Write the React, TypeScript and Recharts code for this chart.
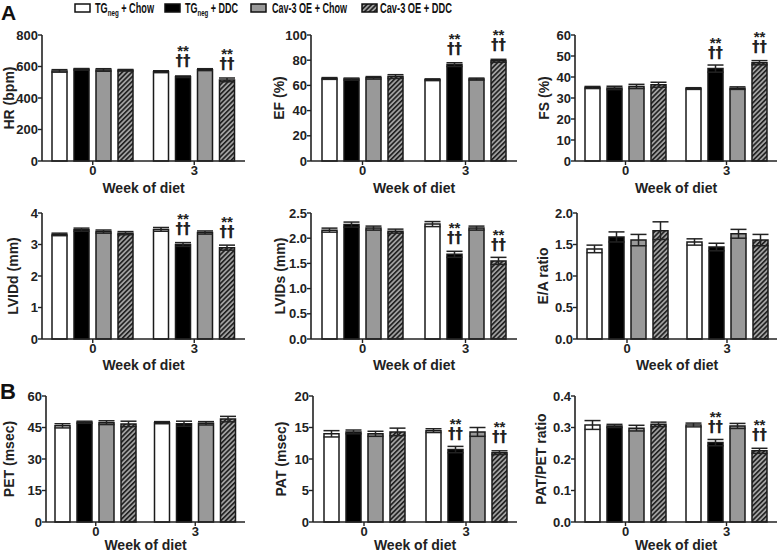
import React from "react";
import { BarChart, Bar, XAxis, YAxis, ErrorBar, LabelList } from "recharts";

const weeks = ["0", "3"];
const groupNames = ["TG", "TG", "Cav-3 OE + Chow", "Cav-3 OE + DDC"];
const groupFills = ["#ffffff", "#000000", "#999999", "url(#hatch)"];

// rows = week 0, week 3; columns = the four groups
const hrMeans = [[572, 582, 578, 576], [567, 535, 580, 515]];
const hrErrs = [[8, 5, 8, 5], [6, 5, 6, 12]];
const hrTicks = [0, 200, 400, 600, 800];

const efMeans = [[65.5, 65, 66, 67], [64.5, 76.5, 65, 79.5]];
const efErrs = [[0.7, 0.8, 1, 1.5], [0.7, 1.5, 0.8, 1.2]];
const efTicks = [0, 20, 40, 60, 80, 100];

const fsMeans = [[35, 34.8, 35.5, 36.3], [34.5, 44, 34.7, 46.8]];
const fsErrs = [[0.5, 0.8, 1, 1.2], [0.4, 1.7, 0.6, 1]];
const fsTicks = [0, 10, 20, 30, 40, 50, 60];

const lviddMeans = [[3.32, 3.47, 3.41, 3.36], [3.48, 3.0, 3.38, 2.9]];
const lviddErrs = [[0.04, 0.05, 0.05, 0.05], [0.06, 0.06, 0.05, 0.08]];
const lviddTicks = [0, 1, 2, 3, 4];

const lvidsMeans = [[2.16, 2.27, 2.2, 2.14], [2.28, 1.68, 2.2, 1.55]];
const lvidsErrs = [[0.04, 0.05, 0.04, 0.04], [0.05, 0.06, 0.04, 0.07]];
const lvidsTicks = [0, 0.5, 1, 1.5, 2, 2.5];

const eaMeans = [[1.43, 1.62, 1.57, 1.72], [1.54, 1.46, 1.67, 1.57]];
const eaErrs = [[0.06, 0.08, 0.09, 0.14], [0.05, 0.06, 0.07, 0.09]];
const eaTicks = [0, 0.5, 1, 1.5, 2];

const petMeans = [[45.8, 47.5, 47.3, 46.7], [47.3, 46.8, 47, 49]];
const petErrs = [[1, 0.5, 0.9, 1.3], [0.5, 1.2, 0.8, 1.3]];
const petTicks = [0, 15, 30, 45, 60];

const patMeans = [[14, 14.3, 14, 14.3], [14.5, 11.5, 14.3, 11]];
const patErrs = [[0.5, 0.3, 0.4, 0.6], [0.3, 0.5, 0.7, 0.3]];
const patTicks = [0, 5, 10, 15, 20];

const ratioMeans = [[0.308, 0.305, 0.298, 0.31], [0.308, 0.252, 0.305, 0.226]];
const ratioErrs = [[0.014, 0.005, 0.009, 0.007], [0.006, 0.01, 0.008, 0.008]];
const ratioTicks = [0, 0.1, 0.2, 0.3, 0.4];

const sigDDC = [[0, 0, 0, 0], [0, 1, 0, 1]];
const sigNone = [[0, 0, 0, 0], [0, 0, 0, 0]];

const FONT = "'Liberation Sans', Arial, sans-serif";
const INK = "#222";

const cols = [
  { left: 0, right: 15 },
  { left: 260, right: 3 },
  { left: 517, right: 0 },
];
const rows = [
  { top: 25, height: 170, mTop: 10, xh: 34, labelY: 168 },
  { top: 195, height: 178, mTop: 18, xh: 34, labelY: 175 },
  { top: 375, height: 179, mTop: 21, xh: 32, labelY: 175 },
];

const panels = [
  { title: "HR (bpm)", means: hrMeans, errs: hrErrs, ticks: hrTicks, dec: 0, sig: sigDDC, r: 0, c: 0, yw: 42, lx: 9 },
  { title: "EF (%)", means: efMeans, errs: efErrs, ticks: efTicks, dec: 0, sig: sigDDC, r: 0, c: 1, yw: 51, lx: 19 },
  { title: "FS (%)", means: fsMeans, errs: fsErrs, ticks: fsTicks, dec: 0, sig: sigDDC, r: 0, c: 2, yw: 58, lx: 27 },
  { title: "LVIDd (mm)", means: lviddMeans, errs: lviddErrs, ticks: lviddTicks, dec: 0, sig: sigDDC, r: 1, c: 0, yw: 42, lx: 13 },
  { title: "LVIDs (mm)", means: lvidsMeans, errs: lvidsErrs, ticks: lvidsTicks, dec: 1, sig: sigDDC, r: 1, c: 1, yw: 51, lx: 20 },
  { title: "E/A ratio", means: eaMeans, errs: eaErrs, ticks: eaTicks, dec: 1, sig: sigNone, r: 1, c: 2, yw: 60, lx: 26 },
  { title: "PET (msec)", means: petMeans, errs: petErrs, ticks: petTicks, dec: 0, sig: sigNone, r: 2, c: 0, yw: 46, lx: 9 },
  { title: "PAT (msec)", means: patMeans, errs: patErrs, ticks: patTicks, dec: 0, sig: sigDDC, r: 2, c: 1, yw: 53, lx: 21 },
  { title: "PAT/PET ratio", means: ratioMeans, errs: ratioErrs, ticks: ratioTicks, dec: 1, sig: sigDDC, r: 2, c: 2, yw: 58, lx: 24 },
];

// "**" over "††", one text element with two lines
const SigLabel = (props: any) => {
  const { x, y, width, value } = props;
  if (!value) return null;
  const cx = x + width / 2;
  return (
    <text x={cx} y={y - 21} textAnchor="middle" fontSize={15} fontWeight="bold" fill={INK} fontFamily={FONT}>
      <tspan x={cx}>**</tspan>
      <tspan x={cx} dy={10} fontFamily="'DejaVu Sans', sans-serif">††</tspan>
    </text>
  );
};

const Panel = ({ p }: { p: any }) => {
  const col = cols[p.c];
  const row = rows[p.r];
  const W = 260;
  const data = weeks.map((w, i) => {
    const d: any = { week: w };
    p.means[i].forEach((m: number, k: number) => {
      d[`m${k}`] = m;
      d[`e${k}`] = p.errs[i][k];
      d[`s${k}`] = p.sig[i][k];
    });
    return d;
  });
  const plotH = row.height - row.mTop - row.xh;
  const plotL = p.yw;
  const plotR = W - col.right;
  const yMid = row.mTop + plotH / 2;
  const tickStyle = { fontSize: 13, fontWeight: "bold", fill: INK, fontFamily: FONT };
  return (
    <div style={{ position: "absolute", left: col.left, top: row.top }}>
      <BarChart
        width={W}
        height={row.height}
        data={data}
        margin={{ top: row.mTop, right: col.right, bottom: 0, left: 0 }}
        barSize={15}
        barGap={7}
      >
        <XAxis
          dataKey="week"
          height={row.xh}
          tick={tickStyle}
          tickSize={4}
          tickMargin={1}
          axisLine={{ stroke: INK, strokeWidth: 1.6 }}
          tickLine={{ stroke: INK, strokeWidth: 1.4 }}
          label={{
            content: () => (
              <text x={(plotL + plotR) / 2} y={row.labelY} textAnchor="middle" fontSize={14} fontWeight="bold" fill={INK} fontFamily={FONT}>
                Week of diet
              </text>
            ),
          }}
        />
        <YAxis
          width={p.yw}
          domain={[0, p.ticks[p.ticks.length - 1]]}
          ticks={p.ticks}
          interval={0}
          tickFormatter={(v: number) => v.toFixed(p.dec)}
          tick={tickStyle}
          tickSize={4}
          tickMargin={0}
          axisLine={{ stroke: INK, strokeWidth: 1.6 }}
          tickLine={{ stroke: INK, strokeWidth: 1.4 }}
          label={{
            content: () => (
              <text
                x={p.lx}
                y={yMid}
                transform={`rotate(-90 ${p.lx} ${yMid})`}
                textAnchor="middle"
                dominantBaseline="central"
                fontSize={14}
                fontWeight="bold"
                fill={INK}
                fontFamily={FONT}
              >
                {p.title}
              </text>
            ),
          }}
        />
        {[0, 1, 2, 3].map((k) => (
          <Bar key={k} dataKey={`m${k}`} fill={groupFills[k]} stroke="#1a1a1a" strokeWidth={1.5} isAnimationActive={false}>
            <ErrorBar dataKey={`e${k}`} width={8} stroke={INK} strokeWidth={1.5} direction="y" isAnimationActive={false} />
            <LabelList dataKey={`s${k}`} content={SigLabel} />
          </Bar>
        ))}
      </BarChart>
    </div>
  );
};

const legendItems = [
  { box: 75, tx: 95, len: 59, sub: true, rest: " + Chow" },
  { box: 165, tx: 185, len: 53, sub: true, rest: " + DDC" },
  { box: 251, tx: 272, len: 75, sub: false, rest: "" },
  { box: 362, tx: 380, len: 72, sub: false, rest: "" },
];

const Legend = () => (
  <svg width={777} height={25} style={{ position: "absolute", left: 0, top: 0 }} fontFamily={FONT}>
    <text x={1} y={20} fontSize={21} fontWeight="bold" fill="#111">A</text>
    {legendItems.map((it, k) => (
      <g key={k}>
        <rect x={it.box} y={4} width={15} height={8} fill={groupFills[k]} stroke="#111" strokeWidth={1.5} />
        <text x={it.tx} y={13} fontSize={14} fontWeight="bold" fill="#111" textLength={it.len} lengthAdjust="spacingAndGlyphs">
          {groupNames[k]}
          {it.sub ? <tspan fontSize={9.5} dy={2.5}>neg</tspan> : null}
          {it.sub ? <tspan dy={-2.5}>{it.rest}</tspan> : null}
        </text>
      </g>
    ))}
  </svg>
);

export default function App() {
  return (
    <div style={{ position: "absolute", left: 0, top: 0, width: 777, height: 554, overflow: "hidden", background: "#fff" }}>
      <svg width={0} height={0} style={{ position: "absolute" }}>
        <defs>
          <pattern id="hatch" patternUnits="userSpaceOnUse" width={3.4} height={3.4} patternTransform="rotate(45)">
            <rect width={3.4} height={3.4} fill="#a0a0a0" />
            <rect x={0} y={0} width={1.6} height={3.4} fill="#1e1e1e" />
          </pattern>
        </defs>
      </svg>
      <Legend />
      <svg width={30} height={30} style={{ position: "absolute", left: 0, top: 378 }}>
        <text x={0} y={21} fontSize={22} fontWeight="bold" fill="#111" fontFamily={FONT}>B</text>
      </svg>
      {panels.map((p, i) => (
        <Panel key={i} p={p} />
      ))}
    </div>
  );
}
